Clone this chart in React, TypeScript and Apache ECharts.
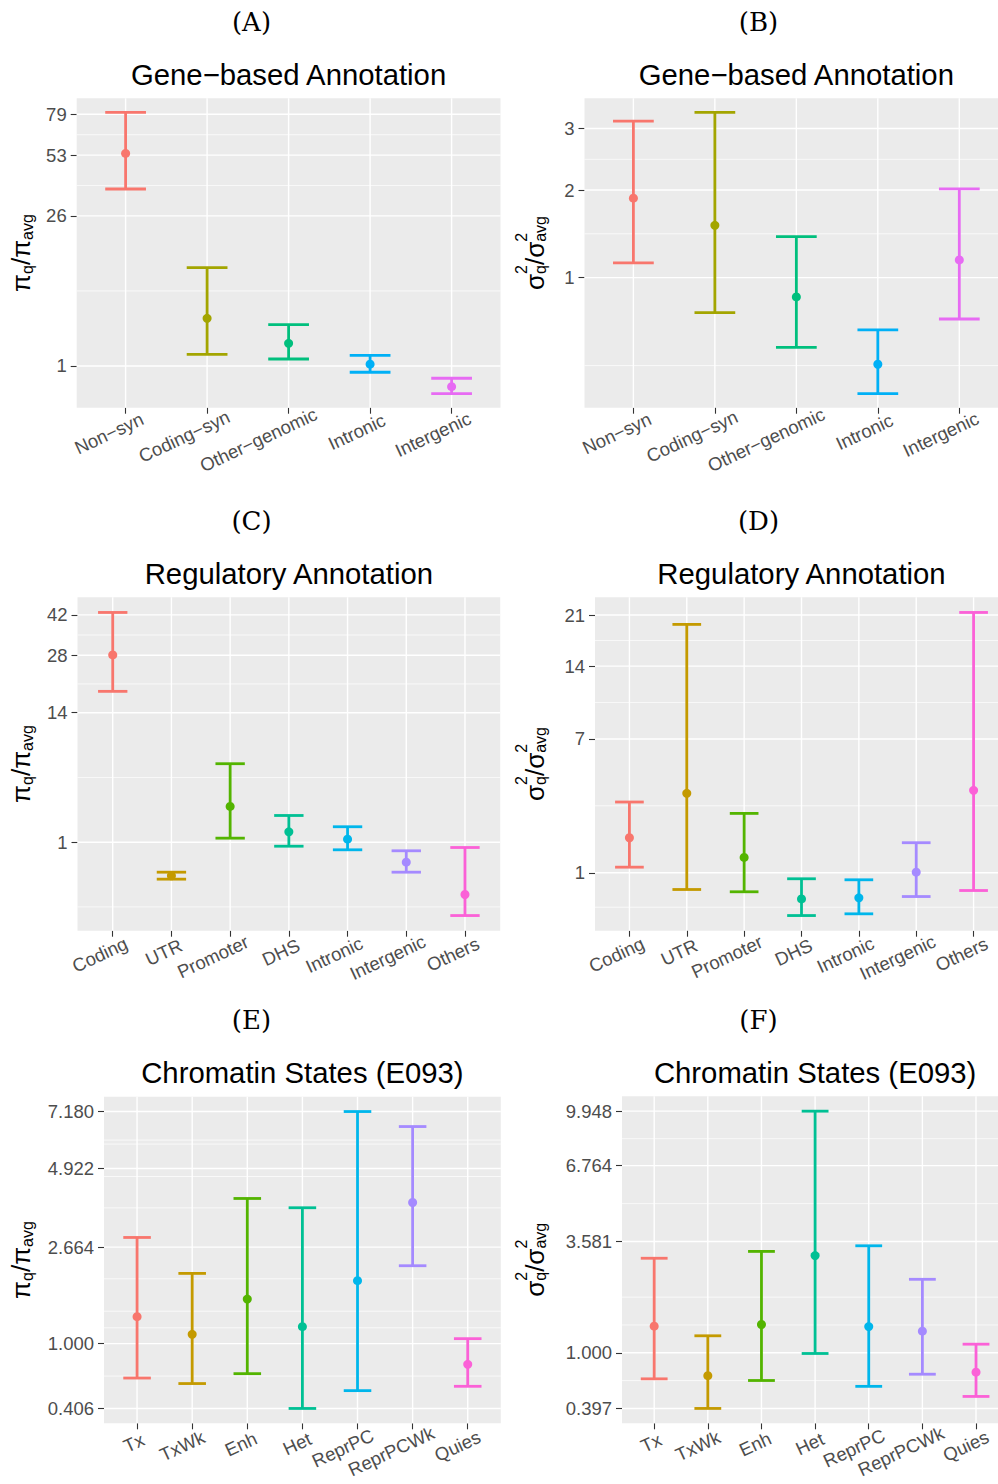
import React, { useEffect, useRef } from "react";
import * as echarts from "echarts";

const WIDTH = 998;
const HEIGHT = 1484;

const SANS = '"Liberation Sans", Arial, Helvetica, sans-serif';
const SERIF = '"DejaVu Serif", "Liberation Serif", serif';
const TICK_GREY = "#4D4D4D";
const TICK_DARK = "#333333";
const PANEL_BG = "#EBEBEB";

// ggplot2 default hue palettes
const HUE5 = ["#F8766D", "#A3A500", "#00BF7D", "#00B0F6", "#E76BF3"];
const HUE7 = ["#F8766D", "#C49A00", "#53B400", "#00C094", "#00B6EB", "#A58AFF", "#FB61D7"];

// ---------- Gene-based annotation ----------
const geneCategories = ["Non−syn", "Coding−syn", "Other−genomic", "Intronic", "Intergenic"];

const genePiMean = [54.0, 4.28, 2.18, 1.07, 0.387];
const genePiLower = [36.4, 1.53, 1.3, 0.773, 0.26];
const genePiUpper = [80.4, 11.93, 3.65, 1.48, 0.591];
const genePiTicks = [1, 26, 53, 79];
const genePiMinor = [1.981, 3.359, 4.0235]; // positions on the cube-root scale

const geneSigmaMean = [1.887, 1.542, 0.838, 0.41, 1.166];
const geneSigmaLower = [1.137, 0.72, 0.499, 0.282, 0.675];
const geneSigmaUpper = [3.14, 3.31, 1.41, 0.603, 2.015];
const geneSigmaTicks = [1, 2, 3];
const geneSigmaMinor = [0.739, 1.13, 1.351];

// ---------- Regulatory annotation ----------
const regCategories = ["Coding", "UTR", "Promoter", "DHS", "Intronic", "Intergenic", "Others"];

const regPiMean = [28.07, 0.255, 2.68, 1.38, 1.1, 0.478, 0.0795];
const regPiLower = [18.46, 0.213, 1.137, 0.874, 0.771, 0.305, 0.0081];
const regPiUpper = [42.96, 0.305, 6.38, 2.15, 1.594, 0.744, 0.836];
const regPiTicks = [1, 14, 28, 42];
const regPiMinor = [0.295, 1.705, 2.7235, 3.2565];

const regSigmaMean = [1.902, 3.667, 1.348, 0.555, 0.57, 1.012, 3.815];
const regSigmaLower = [1.119, 0.695, 0.659, 0.355, 0.373, 0.588, 0.679];
const regSigmaUpper = [3.26, 19.57, 2.774, 0.882, 0.863, 1.75, 21.4];
const regSigmaTicks = [1, 7, 14, 21];
const regSigmaMinor = [0.765, 1.457, 2.1615, 2.5845];

// ---------- Chromatin states (E093) ----------
const chromCategories = ["Tx", "TxWk", "Enh", "Het", "ReprPC", "ReprPCWk", "Quies"];

const chromPiMean = [1.36, 1.116, 1.636, 1.218, 1.963, 3.833, 0.771];
const chromPiLower = [0.641, 0.593, 0.681, 0.406, 0.535, 2.258, 0.57];
const chromPiUpper = [2.894, 2.103, 3.953, 3.681, 7.18, 6.53, 1.061];
const chromPiTicks = [0.406, 1.0, 2.664, 4.922, 7.18];
const chromPiMinor = [0.8702, 1.0633, 1.1298, 1.2596, 1.5435, 1.669, 1.799, 1.8149];

const chromSigmaMean = [1.43, 0.707, 1.461, 3.13, 1.424, 1.341, 0.748];
const chromSigmaLower = [0.672, 0.397, 0.654, 0.99, 0.593, 0.724, 0.497];
const chromSigmaUpper = [3.05, 1.263, 3.26, 9.948, 3.44, 2.46, 1.128];
const chromSigmaTicks = [0.397, 1.0, 3.581, 6.764, 9.948];
const chromSigmaMinor = [0.8675, 1.1325, 1.265, 1.7103, 2.0195];

const panelLetters = ["(A)", "(B)", "(C)", "(D)", "(E)", "(F)"];
const panelTitles = [
  "Gene−based Annotation",
  "Gene−based Annotation",
  "Regulatory Annotation",
  "Regulatory Annotation",
  "Chromatin States (E093)",
  "Chromatin States (E093)",
];

type Measure = "pi" | "sigma";

interface PanelSpec {
  categories: string[];
  mean: number[];
  lower: number[];
  upper: number[];
  ticks: number[];
  minor: number[];
  decimals: number;
  colors: string[];
  measure: Measure;
}

const panels: PanelSpec[] = [
  { categories: geneCategories, mean: genePiMean, lower: genePiLower, upper: genePiUpper, ticks: genePiTicks, minor: genePiMinor, decimals: 0, colors: HUE5, measure: "pi" },
  { categories: geneCategories, mean: geneSigmaMean, lower: geneSigmaLower, upper: geneSigmaUpper, ticks: geneSigmaTicks, minor: geneSigmaMinor, decimals: 0, colors: HUE5, measure: "sigma" },
  { categories: regCategories, mean: regPiMean, lower: regPiLower, upper: regPiUpper, ticks: regPiTicks, minor: regPiMinor, decimals: 0, colors: HUE7, measure: "pi" },
  { categories: regCategories, mean: regSigmaMean, lower: regSigmaLower, upper: regSigmaUpper, ticks: regSigmaTicks, minor: regSigmaMinor, decimals: 0, colors: HUE7, measure: "sigma" },
  { categories: chromCategories, mean: chromPiMean, lower: chromPiLower, upper: chromPiUpper, ticks: chromPiTicks, minor: chromPiMinor, decimals: 3, colors: HUE7, measure: "pi" },
  { categories: chromCategories, mean: chromSigmaMean, lower: chromSigmaLower, upper: chromSigmaUpper, ticks: chromSigmaTicks, minor: chromSigmaMinor, decimals: 3, colors: HUE7, measure: "sigma" },
];

// Plot-panel boxes in pixels (left, top, width, height); column index for side texts.
const layout = [
  { left: 76.7, top: 98.3, width: 423.8, height: 309.4, col: 0 },
  { left: 584.5, top: 98.3, width: 423.7, height: 309.4, col: 1 },
  { left: 77.5, top: 597.3, width: 422.7, height: 333.4, col: 0 },
  { left: 595, top: 597.3, width: 413, height: 333.4, col: 1 },
  { left: 104, top: 1096.7, width: 396.8, height: 326.6, col: 0 },
  { left: 622, top: 1096.3, width: 386.2, height: 327, col: 1 },
];

const LETTER_X = [251.5, 758.5];
const YTITLE_BASE_X = [29.3, 542.7];

const TICK_FONT = 18.5;
const LABEL_ANGLE = (25 * Math.PI) / 180;
const LABEL_HJUST = 0.78;

// cube-root scale used on every y axis
const tr = (v: number) => Math.cbrt(v);

function limitsOf(p: PanelSpec): [number, number] {
  const lo = tr(Math.min(...p.lower));
  const hi = tr(Math.max(...p.upper));
  const pad = 0.05 * (hi - lo);
  return [lo - pad, hi + pad];
}

let measureCtx: CanvasRenderingContext2D | null = null;
function textWidth(text: string, size: number, family = SANS): number {
  if (!measureCtx) measureCtx = document.createElement("canvas").getContext("2d");
  if (!measureCtx) return text.length * size * 0.55;
  measureCtx.font = `${size}px ${family}`;
  return measureCtx.measureText(text).width;
}

// Rotated axis title: π_q/π_avg or σ²_q/σ²_avg
function yTitle(kind: Measure, baseX: number, centerY: number) {
  const M = 26;
  const S = 16;
  const SUP = -16;
  const SUB = 3;
  const sym = kind === "pi" ? "π" : "σ";
  const pieces: { text: string; size: number; dy: number; x: number }[] = [];
  let x = 0;
  const main = (t: string) => {
    pieces.push({ text: t, size: M, dy: 0, x });
    x += textWidth(t, M);
  };
  const scripts = (sup: string | null, sub: string) => {
    let w = 0;
    if (sup) {
      pieces.push({ text: sup, size: S, dy: SUP, x });
      w = textWidth(sup, S);
    }
    pieces.push({ text: sub, size: S, dy: SUB, x });
    w = Math.max(w, textWidth(sub, S));
    x += w;
  };
  const sup = kind === "sigma" ? "2" : null;
  main(sym);
  scripts(sup, "q");
  main("/");
  main(sym);
  scripts(sup, "avg");
  const total = x;
  return {
    type: "group",
    x: baseX,
    y: centerY,
    rotation: Math.PI / 2,
    silent: true,
    children: pieces.map((p) => ({
      type: "text",
      x: p.x - total / 2,
      y: p.dy - 0.31 * p.size,
      style: {
        text: p.text,
        fontSize: p.size,
        fontFamily: SANS,
        fill: "#000000",
        align: "left",
        verticalAlign: "middle",
      },
    })),
  };
}

function buildOption() {
  const grid: any[] = [];
  const xAxis: any[] = [];
  const yAxis: any[] = [];
  const series: any[] = [];

  panels.forEach((p, k) => {
    const box = layout[k];
    const n = p.categories.length;
    const lim = limitsOf(p);
    const tickT = p.ticks.map(tr);
    const idx = p.categories.map((_, i) => i);

    grid.push({
      left: box.left,
      top: box.top,
      width: box.width,
      height: box.height,
      show: true,
      backgroundColor: PANEL_BG,
      borderWidth: 0,
      containLabel: false,
      outerBoundsMode: "none",
    });

    xAxis.push({
      type: "value",
      gridIndex: k,
      position: "bottom",
      min: -0.6,
      max: n - 1 + 0.6,
      axisLine: { show: false, onZero: false },
      splitLine: { show: false },
      axisTick: {
        show: true,
        customValues: idx,
        length: 6,
        lineStyle: { color: TICK_DARK, width: 1.1 },
      },
      axisLabel: { show: false, customValues: idx },
    });

    yAxis.push({
      type: "value",
      gridIndex: k,
      position: "left",
      min: lim[0],
      max: lim[1],
      axisLine: { show: false, onZero: false },
      splitLine: { show: false },
      axisTick: {
        show: true,
        customValues: tickT,
        length: 6,
        lineStyle: { color: TICK_DARK, width: 1.1 },
      },
      axisLabel: {
        show: true,
        customValues: tickT,
        margin: 10,
        color: TICK_GREY,
        fontSize: TICK_FONT,
        fontFamily: SANS,
        formatter: (v: number) => {
          let best = 0;
          tickT.forEach((t, j) => {
            if (Math.abs(t - v) < Math.abs(tickT[best] - v)) best = j;
          });
          return p.ticks[best].toFixed(p.decimals);
        },
      },
    });

    // white grid lines: [orientation (0 = horizontal, 1 = vertical), position, line width]
    const gridLines: number[][] = [];
    p.minor.forEach((t) => gridLines.push([0, t, 0.7]));
    tickT.forEach((t) => gridLines.push([0, t, 1.4]));
    idx.forEach((i) => gridLines.push([1, i, 1.4]));

    series.push({
      type: "custom",
      xAxisIndex: k,
      yAxisIndex: k,
      silent: true,
      z: 1,
      data: gridLines,
      renderItem: (params: any, api: any) => {
        const cs = params.coordSys;
        const kind = api.value(0);
        const v = api.value(1);
        const w = api.value(2);
        if (kind === 0) {
          const y = api.coord([0, v])[1];
          return {
            type: "line",
            shape: { x1: cs.x, y1: y, x2: cs.x + cs.width, y2: y },
            style: { stroke: "#FFFFFF", lineWidth: w },
          };
        }
        const x = api.coord([v, lim[0]])[0];
        return {
          type: "line",
          shape: { x1: x, y1: cs.y, x2: x, y2: cs.y + cs.height },
          style: { stroke: "#FFFFFF", lineWidth: w },
        };
      },
    });

    // error bars
    series.push({
      type: "custom",
      xAxisIndex: k,
      yAxisIndex: k,
      silent: true,
      z: 3,
      data: idx.map((i) => [i, tr(p.lower[i]), tr(p.upper[i])]),
      renderItem: (params: any, api: any) => {
        const i = api.value(0);
        const a = api.coord([i, api.value(1)]);
        const b = api.coord([i, api.value(2)]);
        const half = api.size([0.25, 0])[0];
        const style = { stroke: p.colors[params.dataIndex], lineWidth: 2.8, lineCap: "butt" };
        return {
          type: "group",
          children: [
            { type: "line", shape: { x1: a[0], y1: a[1], x2: b[0], y2: b[1] }, style },
            { type: "line", shape: { x1: a[0] - half, y1: a[1], x2: a[0] + half, y2: a[1] }, style },
            { type: "line", shape: { x1: b[0] - half, y1: b[1], x2: b[0] + half, y2: b[1] }, style },
          ],
        };
      },
    });

    // point estimates
    series.push({
      type: "scatter",
      xAxisIndex: k,
      yAxisIndex: k,
      silent: true,
      z: 4,
      symbol: "circle",
      symbolSize: 9,
      data: idx.map((i) => ({
        value: [i, tr(p.mean[i])],
        itemStyle: { color: p.colors[i], opacity: 1 },
      })),
    });
  });

  return {
    animation: false,
    backgroundColor: "#FFFFFF",
    grid,
    xAxis,
    yAxis,
    series,
  };
}

function buildGraphics(chart: echarts.ECharts) {
  const g: any[] = [];
  panels.forEach((p, k) => {
    const box = layout[k];
    const lim = limitsOf(p);
    const cx = box.left + box.width / 2;

    g.push({
      type: "text",
      x: LETTER_X[box.col],
      y: box.top - 76.3,
      silent: true,
      style: {
        text: panelLetters[k],
        fontSize: 26,
        fontFamily: SERIF,
        fill: "#000000",
        align: "center",
        verticalAlign: "middle",
      },
    });

    g.push({
      type: "text",
      x: cx,
      y: box.top - 24.3,
      silent: true,
      style: {
        text: panelTitles[k],
        fontSize: 29.3,
        fontFamily: SANS,
        fill: "#000000",
        align: "center",
        verticalAlign: "middle",
      },
    });

    g.push(yTitle(p.measure, YTITLE_BASE_X[box.col], box.top + box.height / 2));

    p.categories.forEach((c, i) => {
      const pt = chart.convertToPixel({ gridIndex: k } as any, [i, lim[0]]) as number[];
      const L = textWidth(c, TICK_FONT);
      const shift = (1 - LABEL_HJUST) * L;
      g.push({
        type: "text",
        x: pt[0] + 2 + shift * Math.cos(LABEL_ANGLE),
        y: pt[1] + 17 - shift * Math.sin(LABEL_ANGLE),
        rotation: LABEL_ANGLE,
        silent: true,
        style: {
          text: c,
          fontSize: TICK_FONT,
          fontFamily: SANS,
          fill: TICK_GREY,
          align: "right",
          verticalAlign: "middle",
        },
      });
    });
  });
  return g;
}

export default function App() {
  const ref = useRef<HTMLDivElement>(null);

  useEffect(() => {
    if (!ref.current) return;
    const chart = echarts.init(ref.current, undefined, { renderer: "svg", width: WIDTH, height: HEIGHT });
    chart.setOption(buildOption() as any);
    chart.setOption({ graphic: buildGraphics(chart) } as any);
    return () => chart.dispose();
  }, []);

  return (
    <div
      ref={ref}
      style={{ position: "absolute", left: 0, top: 0, width: WIDTH, height: HEIGHT, background: "#FFFFFF" }}
    />
  );
}
